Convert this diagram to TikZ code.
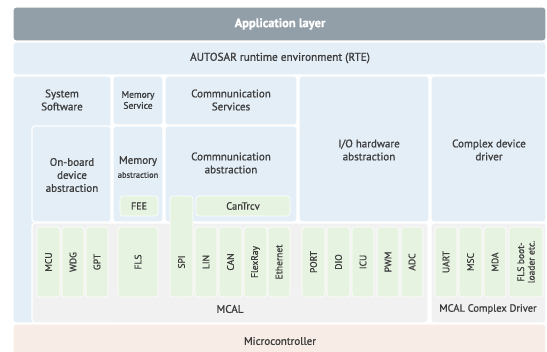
\documentclass[tikz,border=0pt]{standalone}
\usepackage{fontspec}
\setmainfont{PT Sans}[FakeBold=1]
\definecolor{appgray}{HTML}{939FA8}
\definecolor{blueL}{HTML}{E4EEF6}
\definecolor{greenL}{HTML}{E7F3E1}
\definecolor{grayL}{HTML}{F1F1F1}
\definecolor{peachL}{HTML}{F8EDE6}
\definecolor{txt}{HTML}{3E3E3E}
\begin{document}
\begin{tikzpicture}[x=1pt,y=-1pt,
	blk/.style={fill=blueL,draw=white,line width=1.2pt,rounded corners=3pt},
	mcal/.style={fill=grayL,draw=white,line width=1.2pt,rounded corners=3pt},
	drv/.style={fill=greenL,draw=white,line width=0.6pt,rounded corners=3pt},
	lbl/.style={text=txt,font=\fontsize{11}{13}\selectfont,align=center,inner sep=0pt},
	vlbl/.style={lbl,rotate=90,font=\fontsize{9.5}{10.5}\selectfont}]
	\useasboundingbox (0,0) rectangle (547,352);
	\clip (0,0) rectangle (547,352);
	% upper layers
	\path[blk,fill=appgray] (13,7) rectangle (546,41);
	\node[lbl,text=white,font=\fontsize{12.5}{13}\selectfont\bfseries] (app) at (280,24) {Application layer};
	\path[blk] (13,42) rectangle (546,75);
	\node[lbl,font=\fontsize{11.3}{13}\selectfont] (rte) at (280,58) {AUTOSAR runtime environment (RTE)};
	% services and abstraction
	\path[blk] (13,76) rectangle (111,323);
	\node[lbl] (syssw) at (62,100) {System\\Software};
	\path[blk] (113,76) rectangle (163,125);
	\node[lbl,font=\fontsize{9.5}{11}\selectfont] (memsrv) at (138,100) {Memory\\Service};
	\path[blk] (165,76) rectangle (297,125);
	\node[lbl] (comsrv) at (231,100) {Commnunication\\Services};
	\path[blk] (32,126) rectangle (111,222);
	\node[lbl,font=\fontsize{11}{13}\selectfont] (onboard) at (72,175) {On-board\\device\\abstraction};
	\path[blk] (113,126) rectangle (163,222);
	\node[lbl] (memabs) at (138,167) {Memory\\[1pt]{\fontsize{8.5}{9}\selectfont abstraction}};
	\path[blk] (165,126) rectangle (297,222);
	\node[lbl] (comabs) at (231,163) {Commnunication\\abstraction};
	\path[blk] (299,76) rectangle (429,222);
	\node[lbl] (ioabs) at (369,150) {I/O hardware\\abstraction};
	\path[blk] (431,76) rectangle (546,222);
	\node[lbl] (cdd) at (489,150) {Complex device\\driver};
	% MCAL
	\path[mcal] (32,223) rectangle (428,323);
	\node[lbl] (mcal) at (230,309) {MCAL};
	\path[mcal] (431,223) rectangle (546,323);
	\node[lbl,font=\fontsize{10.5}{11}\selectfont] (mcalcd) at (488,309) {MCAL Complex Driver};
	\path[drv] (120,196) rectangle (158,216);
	\node[lbl,font=\fontsize{10}{10}\selectfont] (fee) at (139,206) {FEE};
	\path[drv] (196,196) rectangle (290,216);
	\node[lbl,font=\fontsize{10.5}{10}\selectfont] (cantrcv) at (243,206) {CanTrcv};
	\path[drv] (170,196) rectangle (193,297);
	\node[vlbl] (spi) at (181.5,262) {SPI};
	\foreach \xa/\xb/\nm/\txt in {37/60/mcu/MCU,62/84/wdg/WDG,86/108/gpt/GPT,118/158/fls/FLS,
		195/217/lin/LIN,219/242/can/CAN,244/267/flexray/FlexRay,268/290/eth/Ethernet,
		302/325/port/PORT,327/350/dio/DIO,352/374/icu/ICU,377/399/pwm/PWM,401/423/adc/ADC,
		435/457/uart/UART,459/482/msc/MSC,484/506/mda/MDA,509/543/boot/{FLS boot-\\loader etc.}}{
		\path[drv] (\xa,227) rectangle (\xb,297);
		\node[vlbl] (\nm) at ({(\xa+\xb)/2},262) {\txt};
	}
	% microcontroller
	\path[blk,fill=peachL] (13,324) rectangle (546,362);
	\node[lbl] (uc) at (280,341) {Microcontroller};
\end{tikzpicture}
\end{document}
